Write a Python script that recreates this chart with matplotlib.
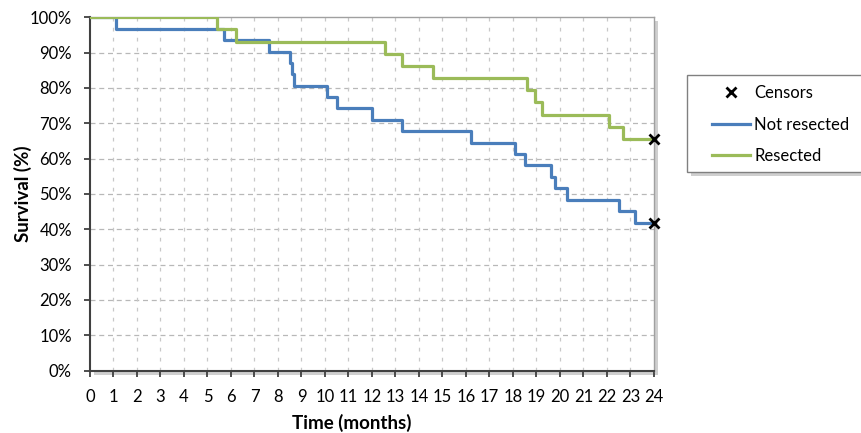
import matplotlib
matplotlib.use('Agg')
import matplotlib.pyplot as plt
from matplotlib.lines import Line2D
from matplotlib.patches import Rectangle

plt.rcParams['font.family'] = ['Lato', 'DejaVu Sans']

# Kaplan-Meier steps (months, survival %)
not_resected_t = [0, 1.1, 5.7, 7.6, 8.5, 8.6, 8.7, 10.1, 10.5, 12.0, 13.3, 16.2,
                  18.1, 18.5, 19.6, 19.8, 20.3, 22.5, 23.2, 24]
not_resected_s = [100, 96.8, 93.5, 90.3, 87.1, 83.9, 80.6, 77.4, 74.2, 71.0, 67.7, 64.5,
                  61.3, 58.1, 54.8, 51.6, 48.4, 45.2, 41.9, 41.9]

resected_t = [0, 5.4, 6.2, 12.55, 13.3, 14.6, 18.6, 18.95, 19.25, 22.1, 22.7, 24]
resected_s = [100, 96.6, 93.1, 89.7, 86.2, 82.8, 79.3, 75.9, 72.4, 69.0, 65.5, 65.5]

# censored at end of follow-up
censor_t = [24, 24]
censor_s = [41.9, 65.5]

x_ticks = list(range(0, 25))
y_ticks = list(range(0, 101, 10))

blue = '#4a7ebb'
green = '#9bbb59'

W, H = 861, 433
fig = plt.figure(figsize=(W / 100, H / 100), dpi=100)
ax_box = [0.1045, 0.144, 0.655, 0.816]
ax = fig.add_axes(ax_box)

# shadow behind plot area
fig.patches.append(Rectangle((ax_box[0] + 4 / W, ax_box[1] - 4 / H), ax_box[2], ax_box[3],
                             transform=fig.transFigure, facecolor='#b0b0b0',
                             edgecolor='none', alpha=0.6, zorder=0))
ax.set_zorder(1)

ax.step(not_resected_t, not_resected_s, where='post', color=blue, lw=2.3, zorder=3)
ax.step(resected_t, resected_s, where='post', color=green, lw=2.3, zorder=3)
ax.plot(censor_t, censor_s, 'x', color='black', ms=7, mew=2, zorder=4, clip_on=False)

ax.set_xlim(0, 24)
ax.set_ylim(0, 100)
ax.set_xticks(x_ticks)
ax.set_xticklabels([str(v) for v in x_ticks])
ax.set_yticks(y_ticks)
ax.set_yticklabels([f'{v}%' for v in y_ticks])

# grid
for v in y_ticks[1:-1]:
    ax.axhline(v, color='#b8b8b8', lw=0.9, ls=(0, (4, 3)), zorder=1)
for v in x_ticks[1:-1]:
    ax.axvline(v, color='#c8c8c8', lw=0.9, ls=(0, (3, 5)), zorder=1)

for s in ['left', 'bottom']:
    ax.spines[s].set_color('#404040')
    ax.spines[s].set_linewidth(1.5)
for s in ['top', 'right']:
    ax.spines[s].set_color('#a0a0a0')
    ax.spines[s].set_linewidth(1.0)

ax.tick_params(axis='both', direction='out', length=4, width=1.3, color='#404040',
               labelsize=12)
ax.tick_params(axis='x', pad=9)
ax.tick_params(axis='y', pad=9)
ax.set_xlabel('Time (months)', fontsize=13.5, fontweight='bold')
ax.set_ylabel('Survival (%)', fontsize=13.5, fontweight='bold')
ax.xaxis.set_label_coords(0.4645, -0.122)
ax.yaxis.set_label_coords(-0.102, 0.5)

# legend box (runs off the right edge like the original)
lx0, lx1, ly0, ly1 = 687, 875, 75, 172
fig.patches.append(Rectangle(((lx0 + 4) / W, 1 - (ly1 + 4) / H), (lx1 - lx0) / W,
                             (ly1 - ly0) / H, transform=fig.transFigure,
                             facecolor='#b0b0b0', edgecolor='none', alpha=0.6, zorder=0))
fig.patches.append(Rectangle((lx0 / W, 1 - ly1 / H), (lx1 - lx0) / W, (ly1 - ly0) / H,
                             transform=fig.transFigure, facecolor='white',
                             edgecolor='#808080', lw=1.0, zorder=1))

handles = [
    Line2D([], [], color='black', marker='x', ls='none', ms=7, mew=2),
    Line2D([], [], color=blue, lw=2.3),
    Line2D([], [], color=green, lw=2.3),
]
leg = fig.legend(handles, ['Censors', 'Not resected', 'Resected'],
                 loc='upper left', bbox_to_anchor=(712 / W, 1 - 85 / H),
                 fontsize=12, frameon=False, handlelength=2.28, handletextpad=0.25,
                 labelspacing=0.94, borderpad=0, borderaxespad=0)
leg.set_zorder(5)

plt.savefig('out.png', dpi=100)
